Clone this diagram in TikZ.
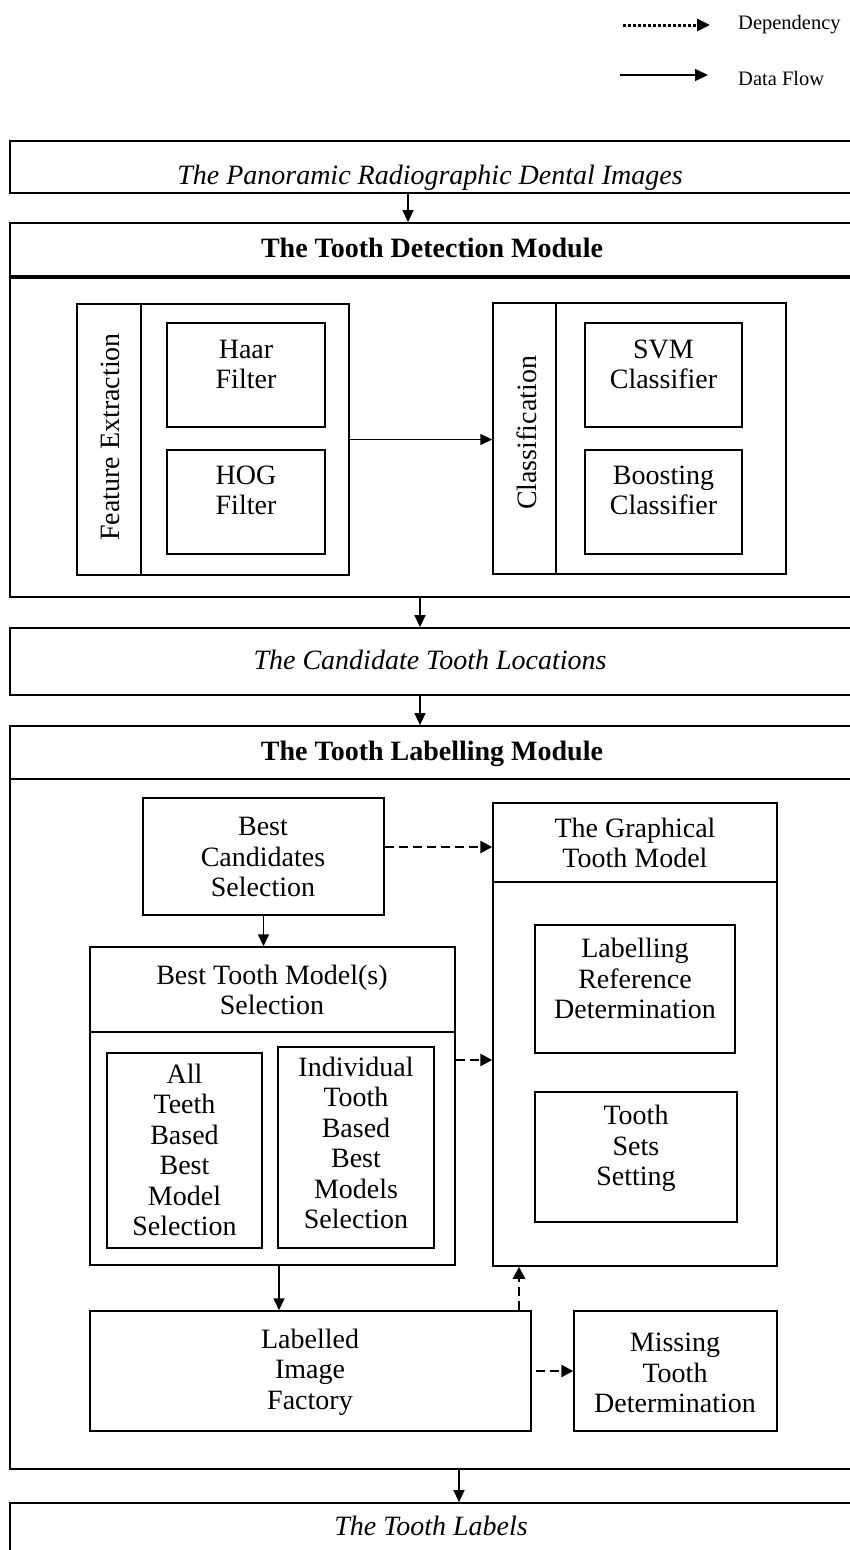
\documentclass[tikz,border=0pt]{standalone}
\usepackage{fontspec}
\setmainfont{Liberation Serif}
\usetikzlibrary{arrows.meta,fit}
\begin{document}
\begin{tikzpicture}[x=1pt,y=-1pt,
  box/.style={draw, line width=1.5pt, inner sep=0pt, rectangle},
  outer/.style={draw, line width=1.8pt, inner sep=0pt, rectangle},
  txt/.style={inner sep=0pt, align=center, font=\fontsize{28}{30.5}\selectfont},
  ttl/.style={inner sep=0pt, font=\fontsize{28}{30}\selectfont\itshape},
  btl/.style={inner sep=0pt, font=\fontsize{28}{30}\selectfont\bfseries},
  legtxt/.style={inner sep=0pt, font=\fontsize{20.5}{22}\selectfont},
  flow/.style={-{Triangle[length=12pt,width=11pt]}, line width=1.5pt},
  dep/.style={-{Triangle[length=12pt,width=12pt]}, line width=2.8pt, dash pattern=on 9pt off 5pt},
  dotline/.style={-{Triangle[length=13pt,width=12pt]}, line width=3pt, dash pattern=on 2.6pt off 2.4pt}
]
\useasboundingbox (0,0) rectangle (850,1550);
\clip (0,0) rectangle (850,1550);

% legend
\coordinate (d1) at (623,25);
\coordinate (d2) at (710,25);
\draw[dotline] (d1) -- (d2);
\node[legtxt, anchor=base west] (dtxt) at (738,29.5) {Dependency};
\coordinate (f1) at (620,75);
\coordinate (f2) at (708,75);
\draw[flow, -{Triangle[length=13pt,width=12pt]}] (f1) -- (f2);
\node[legtxt, anchor=base west] (ftxt) at (738,85) {Data Flow};

% input
\node[outer, fit={(10,141) (853,193)}] (in) {};
\node[ttl, anchor=base] (intxt) at (430,184) {The Panoramic Radiographic Dental Images};

% detection module
\node[outer, fit={(10,223) (853,597)}] (det) {};
\draw[line width=3.2pt] (10,277) -- (853,277);
\node[btl, anchor=base] (dettxt) at (432,257) {The Tooth Detection Module};

\node[box, fit={(77,304) (349,575)}] (fe) {};
\draw[line width=1.5pt] (141,304) -- (141,575);
\node[txt, rotate=90] (fetxt) at (110,437) {Feature Extraction};
\node[box, fit={(167,323) (325,427)}] (haar) {};
\node[txt, anchor=north] (haartxt) at (246,339.5) {Haar\\Filter};
\node[box, fit={(167,450) (325,554)}] (hog) {};
\node[txt, anchor=north] (hogtxt) at (246,465.5) {HOG\\Filter};

\node[box, fit={(493,303) (786,574)}] (cls) {};
\draw[line width=2.4pt] (556,303) -- (556,574);
\node[txt, rotate=90] (clstxt) at (527,433) {Classification};
\node[box, fit={(585,323) (742,427)}] (svm) {};
\node[txt, anchor=north] (svmtxt) at (663.5,339.5) {SVM\\Classifier};
\node[box, fit={(585,450) (742,554)}] (boost) {};
\node[txt, anchor=north] (boosttxt) at (663.5,465.5) {Boosting\\Classifier};

\draw[flow] (fe.east) -- (fe.east -| cls.west);

% candidates
\node[outer, fit={(10,628) (853,695)}] (cand) {};
\node[ttl, anchor=base] (candtxt) at (430,669) {The Candidate Tooth Locations};

% labelling module
\node[outer, fit={(10,726) (853,1469)}] (lab) {};
\draw[line width=1.8pt] (10,779) -- (853,779);
\node[btl, anchor=base] (labtxt) at (432,760) {The Tooth Labelling Module};

\node[box, fit={(143,798) (384,915)}] (bcs) {};
\node[txt] (bcstxt) at (263,857) {Best\\Candidates\\Selection};

\node[box, fit={(493,803) (777,1266)}] (gtm) {};
\draw[line width=1.5pt] (493,882) -- (777,882);
\node[txt] (gtmtxt) at (635,843) {The Graphical\\Tooth Model};
\node[box, fit={(535,925) (735,1053)}] (lrd) {};
\node[txt, anchor=north] (lrdtxt) at (635,938) {Labelling\\Reference\\Determination};
\node[box, fit={(535,1092) (737,1222)}] (tss) {};
\node[txt, anchor=north] (tsstxt) at (636,1105) {Tooth\\Sets\\Setting};

\node[box, fit={(90,947) (455,1265)}] (btms) {};
\draw[line width=1.5pt] (90,1032) -- (455,1032);
\node[txt] (btmstxt) at (272,990) {Best Tooth Model(s)\\Selection};
\node[box, fit={(107,1053) (262,1248)}] (all) {};
\node[txt] (alltxt) at (184.5,1150) {All\\Teeth\\Based\\Best\\Model\\Selection};
\node[box, fit={(278,1047) (434,1248)}] (ind) {};
\node[txt] (indtxt) at (356,1143) {Individual\\Tooth\\Based\\Best\\Models\\Selection};

\node[box, fit={(90,1311) (531,1431)}] (lif) {};
\node[txt] (liftxt) at (310,1372) {Labelled\\Image\\Factory};
\node[box, fit={(574,1311) (777,1431)}] (mtd) {};
\node[txt] (mtdtxt) at (675,1373) {Missing\\Tooth\\Determination};

% output
\node[outer, fit={(10,1503) (853,1565)}] (out) {};
\node[ttl, anchor=base] (outtxt) at (431,1535) {The Tooth Labels};

% main flow connectors
\draw[flow] (in.south -| 408,0) -- (det.north -| 408,0);
\draw[flow] (det.south -| 420,0) -- (cand.north -| 420,0);
\draw[flow] (cand.south -| 420,0) -- (lab.north -| 420,0);
\draw[flow] (lab.south -| 459,0) -- (out.north -| 459,0);

% labelling connectors
\draw[flow] (bcs.south) -- (bcs.south |- btms.north);
\draw[dep] (bcs.east |- 0,847) -- (gtm.west |- 0,847);
\draw[dep] (btms.east |- 0,1060) -- (gtm.west |- 0,1060);
\draw[flow] (btms.south -| 279,0) -- (lif.north -| 279,0);
\draw[dep] (lif.north -| 519,0) -- (gtm.south -| 519,0);
\draw[dep] ([xshift=4pt]lif.east) -- (mtd.west);
\end{tikzpicture}
\end{document}
